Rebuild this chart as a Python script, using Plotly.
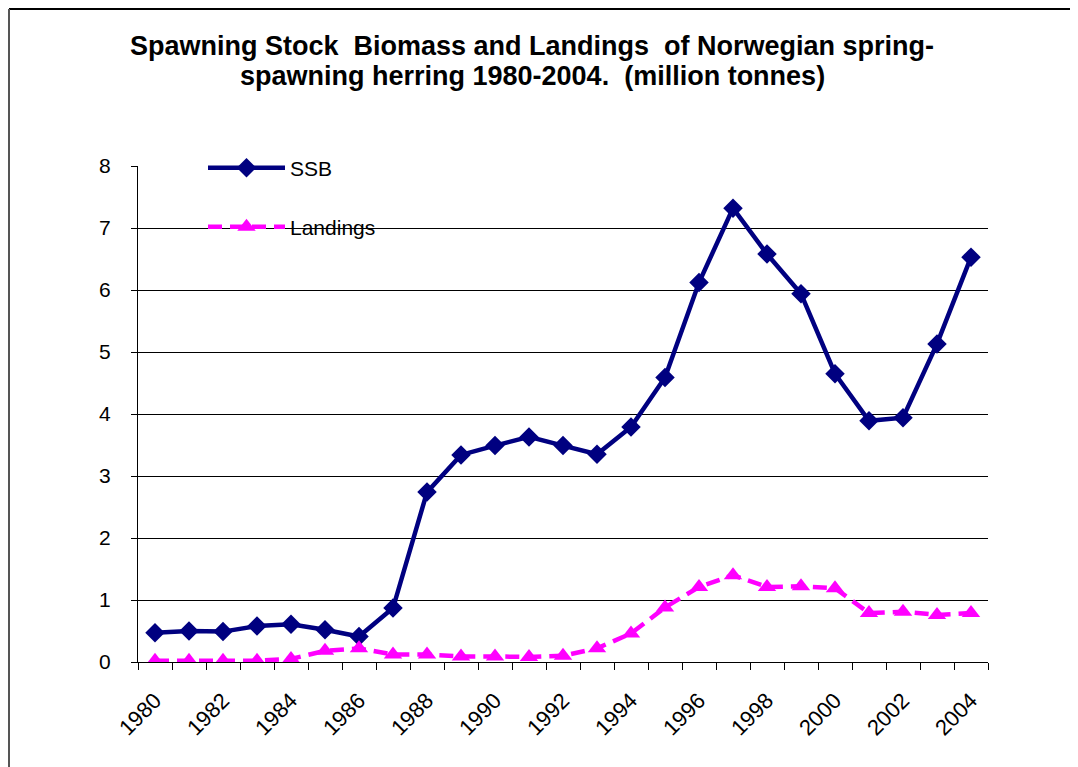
import plotly.graph_objects as go

# data (million tonnes)
years = list(range(1980, 2005))
ssb = [0.47, 0.50, 0.49, 0.58, 0.61, 0.52, 0.41, 0.87, 2.74, 3.34,
       3.49, 3.63, 3.49, 3.35, 3.79, 4.59, 6.12, 7.32, 6.58, 5.94,
       4.65, 3.89, 3.94, 5.13, 6.53]
landings = [0.02, 0.02, 0.02, 0.02, 0.05, 0.18, 0.22, 0.12, 0.12, 0.09,
            0.09, 0.08, 0.10, 0.22, 0.46, 0.88, 1.21, 1.40, 1.21, 1.22,
            1.19, 0.79, 0.81, 0.76, 0.79]
year_labels = [str(y) for y in years[::2]]
y_ticks = list(range(0, 9))
title_lines = [
    "Spawning Stock  Biomass and Landings  of Norwegian spring-",
    "spawning herring 1980-2004.  (million tonnes)",
]

FONT = "Liberation Sans, Arial, sans-serif"

# the page body adds an 8px margin, so reference pixel positions are shifted
OFF = 8
W, H = 1078, 767
L, T = 138 - OFF, 166 - OFF
R, B = W - (988 - OFF), H - (662 - OFF)
pw, ph = W - L - R, H - T - B


def px_x(x):
    return (x - OFF - L) / pw


def px_y(y):
    return (H - B - (y - OFF)) / ph


fig = go.Figure()

fig.add_trace(
    go.Scatter(
        x=years,
        y=ssb,
        name="SSB",
        mode="lines+markers",
        line={"color": "#000080", "width": 4.5},
        marker={"symbol": "diamond", "size": 15, "color": "#000080"},
        legend="legend",
        showlegend=True,
    )
)

fig.add_trace(
    go.Scatter(
        x=years,
        y=landings,
        name="Landings",
        mode="lines+markers",
        line={"color": "#FF00FF", "width": 4.5, "dash": "14px,8px"},
        marker={"symbol": "triangle-up", "size": 16, "color": "#FF00FF"},
        legend="legend2",
        showlegend=True,
    )
)

legend_common = {
    "xanchor": "left",
    "yanchor": "middle",
    "bgcolor": "rgba(0,0,0,0)",
    "font": {"family": FONT, "size": 21, "color": "black"},
    "itemwidth": 77,
    "itemclick": False,
    "visible": True,
}

annotations = [
    {
        "text": "<b>%s</b>" % line,
        "xref": "paper", "yref": "paper",
        "x": px_x(532), "y": px_y(yc),
        "xanchor": "center", "yanchor": "middle",
        "showarrow": False,
        "font": {"family": FONT, "size": 27, "color": "black"},
    }
    for line, yc in zip(title_lines, [46, 76])
]

fig.update_layout(
    width=W,
    height=H,
    margin={"l": L, "r": R, "t": T, "b": B, "pad": 0},
    paper_bgcolor="white",
    plot_bgcolor="white",
    showlegend=True,
    font={"family": FONT, "size": 21, "color": "black"},
    annotations=annotations,
    legend={**legend_common, "x": px_x(203), "y": px_y(168)},
    legend2={**legend_common, "x": px_x(203), "y": px_y(227)},
    xaxis={
        "range": [1979.5, 2004.5],
        "tickmode": "array",
        "tickvals": years[::2],
        "ticktext": year_labels,
        "tickangle": -45,
        "ticks": "",
        "showgrid": False,
        "showline": True,
        "linecolor": "black",
        "linewidth": 1,
        "zeroline": False,
        "tickfont": {"size": 22},
        "ticklabelstandoff": 16,
        "minor": {
            "tickmode": "array",
            "tickvals": [y - 0.5 for y in years] + [2004.5],
            "ticks": "outside",
            "ticklen": 7,
            "tickcolor": "black",
            "showgrid": False,
        },
    },
    yaxis={
        "range": [0, 8],
        "tickmode": "array",
        "tickvals": y_ticks,
        "ticks": "outside",
        "ticklen": 6,
        "tickcolor": "black",
        "showline": True,
        "linecolor": "black",
        "linewidth": 1,
        "showgrid": True,
        "gridcolor": "black",
        "gridwidth": 1,
        "zeroline": False,
        "tickfont": {"size": 21},
        "ticklabelstandoff": 16,
    },
    shapes=[
        # white legend box hiding the gridlines behind the legend
        {
            "type": "rect", "xref": "paper", "yref": "paper",
            "x0": px_x(153), "x1": px_x(452), "y0": px_y(255), "y1": px_y(150),
            "fillcolor": "white", "line": {"width": 0}, "layer": "between",
        },
        # outer chart frame (only top and left edges visible)
        {
            "type": "line", "xref": "paper", "yref": "paper",
            "x0": px_x(9), "x1": px_x(W + OFF), "y0": px_y(9), "y1": px_y(9),
            "line": {"color": "black", "width": 2},
        },
        {
            "type": "line", "xref": "paper", "yref": "paper",
            "x0": px_x(9), "x1": px_x(9), "y0": px_y(9), "y1": px_y(H + OFF),
            "line": {"color": "#555555", "width": 2},
        },
    ],
)

fig.write_html("out.html")
